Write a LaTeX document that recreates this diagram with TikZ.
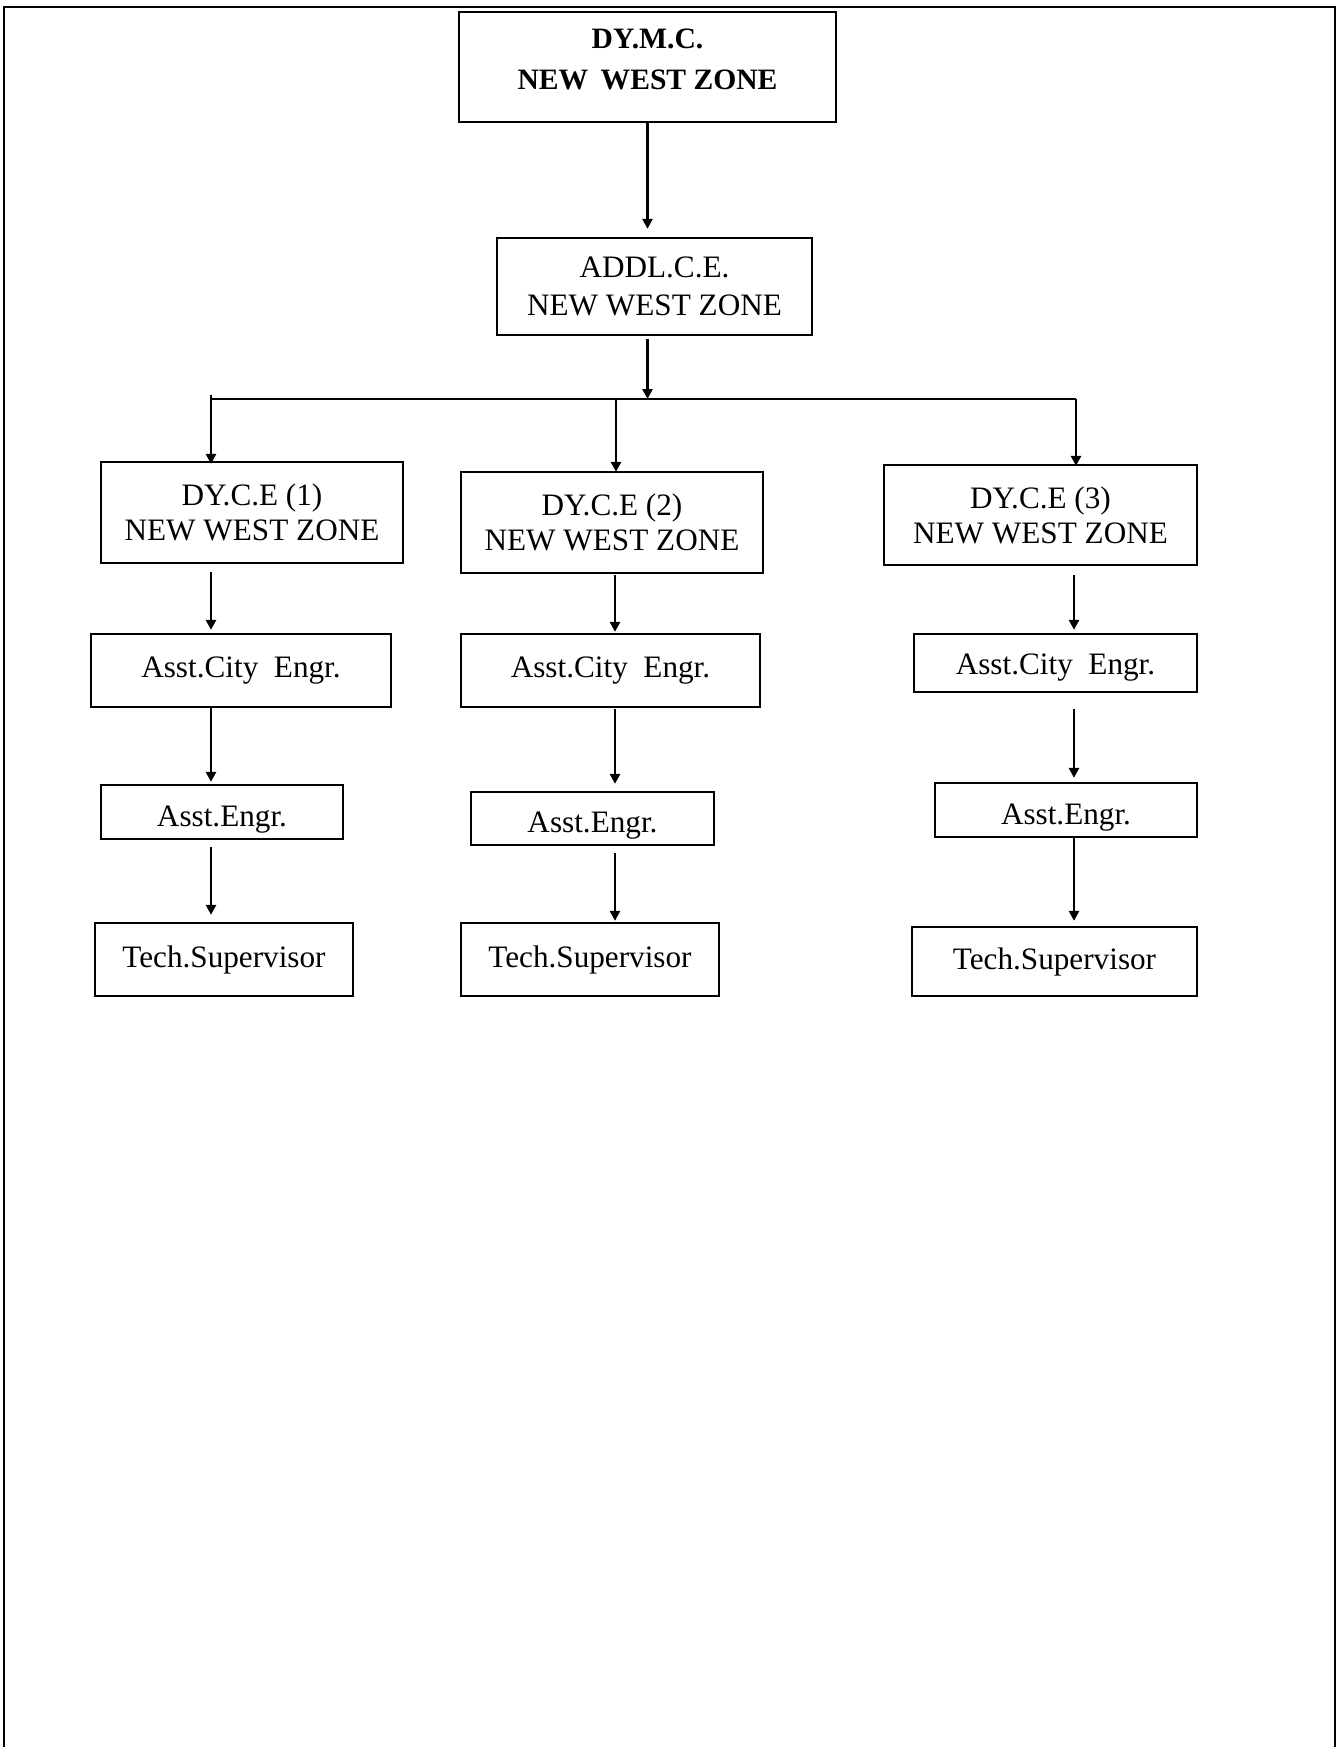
\documentclass[tikz,border=0pt]{standalone}
\usepackage{fontspec}
\setmainfont{Liberation Serif}
\usetikzlibrary{arrows.meta}
\begin{document}
\begin{tikzpicture}[x=0.5pt,y=-0.5pt,
  box/.style={draw,line width=1.15pt,inner sep=0pt,align=center,
    font=\fontsize{15.6pt}{17.5pt}\selectfont},
  low/.style={text height=14.3pt,text depth=0pt},
  lowish/.style={text height=11.7pt,text depth=0pt},
  arr/.style={line width=1.4pt,-{Triangle[length=5pt,width=5pt]}},
  conn/.style={line width=1.1pt}]
\useasboundingbox (0,0) rectangle (1341,1747);
% outer frame (open at the bottom)
\draw[line width=1pt] (4,1747) -- (4,6.5) -- (1335,6.5) -- (1335,1747);

% top
\node[draw,line width=1.3pt,inner sep=0pt,minimum width=188.5pt,minimum height=55pt] (dymc) at (647.5,67) {};
\node[inner sep=0pt,align=center,font=\bfseries\fontsize{14.8pt}{20.5pt}\selectfont] (dymctxt) at (647.5,59) {DY.M.C.\\NEW\hspace{0.42em}WEST ZONE};
\node[box,minimum width=157.5pt,minimum height=48.5pt] (addl) at (654.5,286.5) {ADDL.C.E.\\[1.5pt]NEW WEST ZONE};

% deputy chief engineers
\node[box,minimum width=151pt,minimum height=50.5pt] (dce1) at (252,512.5) {DY.C.E (1)\\NEW WEST ZONE};
\node[box,minimum width=151pt,minimum height=50.5pt] (dce2) at (612,522.5) {DY.C.E (2)\\NEW WEST ZONE};
\node[box,minimum width=156.5pt,minimum height=50pt] (dce3) at (1040.5,515) {DY.C.E (3)\\NEW WEST ZONE};

% asst city engineers
\node[box,minimum width=150pt,minimum height=36.5pt] (ace1) at (241,670.5) {Asst.City\hspace{0.5em}Engr.};
\node[box,minimum width=149.5pt,minimum height=36.5pt] (ace2) at (610.5,670.5) {Asst.City\hspace{0.5em}Engr.};
\node[box,lowish,minimum width=141.5pt,minimum height=29pt] (ace3) at (1055.5,663) {Asst.City\hspace{0.5em}Engr.};

% asst engineers
\node[box,low,minimum width=121pt,minimum height=27pt] (ae1) at (222,812) {Asst.Engr.};
\node[box,low,minimum width=121.5pt,minimum height=26.5pt] (ae2) at (592.5,818.5) {Asst.Engr.};
\node[box,low,minimum width=131pt,minimum height=27pt] (ae3) at (1066,810) {Asst.Engr.};

% technical supervisors
\node[box,minimum width=129pt,minimum height=36.5pt] (ts1) at (224,959.5) {Tech.Supervisor};
\node[box,minimum width=129pt,minimum height=36.5pt] (ts2) at (590,959.5) {Tech.Supervisor};
\node[box,minimum width=142.5pt,minimum height=34.5pt] (ts3) at (1054.5,961.5) {Tech.Supervisor};

% column x positions and bus
\coordinate (c1) at (211,0);
\coordinate (c2) at (615,0);
\coordinate (c3) at (1074,0);
\coordinate (busL) at (211,399);
\coordinate (busLtop) at (211,395);
\coordinate (busM) at (616,399);
\coordinate (busR) at (1076,399);
\coordinate (busC) at (647.5,399);

% connectors
\draw[arr,shorten >=4pt] (dymc.south) -- (addl.north -| dymc.south);
\draw[arr,shorten <=1.5pt] (addl.south -| dymc.south) -- (busC);
\draw[conn] (busL) -- (busR);
\draw[arr,shorten >=-1.5pt] (busLtop) -- (busL |- dce1.north);
\draw[arr,shorten >=-0.5pt] (busM) -- (busM |- dce2.north);
\draw[arr,shorten >=-1pt] (busR) -- (busR |- dce3.north);

\draw[arr,shorten <=4pt,shorten >=1.5pt] (dce1.south -| c1) -- (ace1.north -| c1);
\draw[arr,shorten <=0.5pt,shorten >=0.5pt] (dce2.south -| c2) -- (ace2.north -| c2);
\draw[arr,shorten <=4.5pt,shorten >=1.5pt] (dce3.south -| c3) -- (ace3.north -| c3);

\draw[arr,shorten <=-1pt,shorten >=1pt] (ace1.south -| c1) -- (ae1.north -| c1);
\draw[arr,shorten <=0.5pt,shorten >=3.5pt] (ace2.south -| c2) -- (ae2.north -| c2);
\draw[arr,shorten <=8pt,shorten >=2pt] (ace3.south -| c3) -- (ae3.north -| c3);

\draw[arr,shorten <=3.5pt,shorten >=3.5pt] (ae1.south -| c1) -- (ts1.north -| c1);
\draw[arr,shorten <=3.5pt,shorten >=0.5pt] (ae2.south -| c2) -- (ts2.north -| c2);
\draw[arr,shorten <=-1pt,shorten >=2.5pt] (ae3.south -| c3) -- (ts3.north -| c3);
\end{tikzpicture}
\end{document}
